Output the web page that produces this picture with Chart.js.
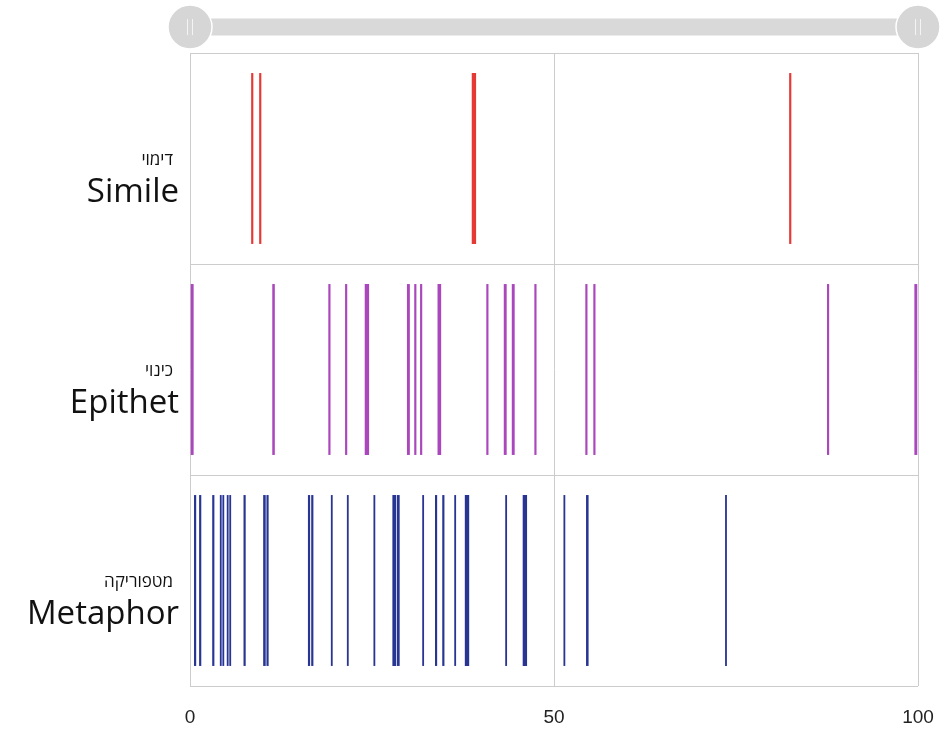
<!DOCTYPE html>
<html>
<head>
<meta charset="utf-8">
<script src="https://cdn.jsdelivr.net/npm/chart.js@4.4.1/dist/chart.umd.min.js"></script>
<style>
  body { margin: 0; background: #fff; }
  #wrap { width: 949px; height: 731px; position: relative; }
</style>
</head>
<body>
<div id="wrap">
    <canvas id="timelineChart"></canvas>
</div>

<script>
    // rows of the timeline, top to bottom
    var categories = ['Simile', 'Epithet', 'Metaphor'];
    var hebrewLabels = ['דימוי', 'כינוי', 'מטפוריקה'];
    var xTicks = [0, 50, 100];

    // every mark is [start, end] on the 0-100 axis
    var simileMarks = [
        [8.4, 8.7], [9.5, 9.8], [38.7, 39.3], [82.3, 82.6]
    ];
    var epithetMarks = [
        [0.1, 0.5], [11.3, 11.65], [19.0, 19.3], [21.3, 21.6], [24.0, 24.6],
        [29.8, 30.2], [30.8, 31.1], [31.6, 31.9], [34.0, 34.5], [40.7, 41.0],
        [43.1, 43.5], [44.2, 44.6], [47.3, 47.6], [54.3, 54.6], [55.4, 55.7],
        [87.5, 87.8], [99.5, 99.9]
    ];
    var metaphorMarks = [
        [0.55, 0.85], [1.25, 1.55], [3.05, 3.35], [4.1, 4.35], [4.45, 4.7],
        [5.05, 5.3], [5.4, 5.65], [7.35, 7.65], [10.05, 10.4], [10.5, 10.8],
        [16.2, 16.5], [16.65, 16.95], [19.35, 19.6], [21.55, 21.8], [25.2, 25.45],
        [27.8, 28.3], [28.4, 28.8], [31.9, 32.15], [33.65, 33.95], [34.65, 34.95],
        [36.3, 36.55], [37.75, 38.35], [43.3, 43.55], [45.7, 46.3], [51.3, 51.55],
        [54.4, 54.75], [73.5, 73.75]
    ];

    var seriesColors = ['#e53935', '#ab47bc', '#283593'];

    function toPoints(marks, row) {
        return marks.map(function (m) { return { x: m, y: row }; });
    }

    // slider drawn above the plot, handles sit on the axis ends
    var sliderPlugin = {
        id: 'slider',
        beforeDraw: function (chart) {
            var ctx = chart.ctx;
            var x = chart.scales.x;
            var x0 = x.getPixelForValue(x.min);
            var x1 = x.getPixelForValue(x.max);
            var cy = 27;
            ctx.save();
            ctx.fillStyle = '#d9d9d9';
            ctx.fillRect(x0, cy - 8.5, x1 - x0, 17);
            [x0, x1].forEach(function (hx) {
                ctx.beginPath();
                ctx.arc(hx, cy, 22, 0, Math.PI * 2);
                ctx.fillStyle = '#d6d6d6';
                ctx.fill();
                ctx.lineWidth = 1.5;
                ctx.strokeStyle = '#ffffff';
                ctx.stroke();
                ctx.strokeStyle = '#f4f4f4';
                ctx.lineWidth = 1;
                ctx.beginPath();
                ctx.moveTo(hx - 2.5, cy - 8); ctx.lineTo(hx - 2.5, cy + 8);
                ctx.moveTo(hx + 2.5, cy - 8); ctx.lineTo(hx + 2.5, cy + 8);
                ctx.stroke();
            });
            ctx.restore();
        }
    };

    // two-line row labels: hebrew small, english large
    var rowLabelPlugin = {
        id: 'rowLabels',
        afterDraw: function (chart) {
            var ctx = chart.ctx;
            var y = chart.scales.y;
            ctx.save();
            ctx.fillStyle = '#111';
            ctx.textBaseline = 'alphabetic';
            categories.forEach(function (c, i) {
                var cy = y.getPixelForValue(i);
                ctx.textAlign = 'right';
                ctx.font = '17px "Open Sans", "DejaVu Sans", sans-serif';
                ctx.fillText(hebrewLabels[i], 173, cy + 6);
                ctx.font = '33px "Open Sans", "DejaVu Sans", sans-serif';
                ctx.fillText(c, 179, cy + 43);
            });
            ctx.restore();
        }
    };

    var ctx = document.getElementById('timelineChart').getContext('2d');
    var timelineChart = new Chart(ctx, {
        type: 'bar',
        data: {
            labels: categories,
            datasets: [
                { label: 'Simile', data: toPoints(simileMarks, 'Simile'), backgroundColor: seriesColors[0] },
                { label: 'Epithet', data: toPoints(epithetMarks, 'Epithet'), backgroundColor: seriesColors[1] },
                { label: 'Metaphor', data: toPoints(metaphorMarks, 'Metaphor'), backgroundColor: seriesColors[2] }
            ]
        },
        options: {
            indexAxis: 'y',
            responsive: true,
            maintainAspectRatio: false,
            animation: false,
            grouped: false,
            barPercentage: 0.81,
            categoryPercentage: 1,
            borderWidth: 0,
            layout: { padding: { left: 190, right: 31, top: 53, bottom: 0 } },
            plugins: {
                legend: { display: false },
                tooltip: { enabled: false }
            },
            scales: {
                x: {
                    type: 'linear',
                    min: 0,
                    max: 100,
                    afterBuildTicks: function (scale) {
                        scale.ticks = xTicks.map(function (v) { return { value: v }; });
                    },
                    afterFit: function (scale) { scale.height = 45; },
                    grid: { color: '#cccccc', drawTicks: true, tickLength: 17, tickColor: 'rgba(0,0,0,0)' },
                    border: { display: false },
                    ticks: {
                        padding: 3,
                        color: '#222',
                        font: { size: 19, family: '"Liberation Sans", Arial, sans-serif' }
                    }
                },
                y: {
                    type: 'category',
                    offset: true,
                    grid: { offset: true, color: '#cccccc', drawTicks: false },
                    border: { display: false },
                    ticks: { display: false },
                    afterFit: function (scale) { scale.width = 0; }
                }
            }
        },
        plugins: [sliderPlugin, rowLabelPlugin]
    });
</script>
</body>
</html>
